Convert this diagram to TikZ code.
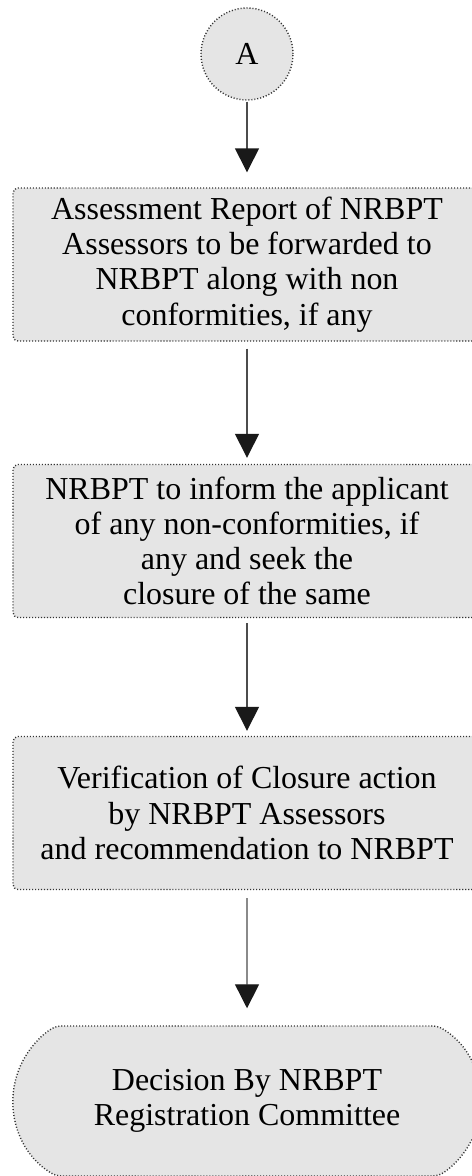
\documentclass[tikz,border=0pt]{standalone}
\usepackage{fontspec}
\setmainfont{Liberation Serif}
\usepackage{tikz}
\usetikzlibrary{positioning,arrows.meta,shapes.misc}
\tikzset{
  flowbox/.style={draw=black!80, fill=black!10, line width=0.8pt,
    dash pattern=on 0.6pt off 1.1pt, rounded corners=0.1cm, align=center,
    font=\fontsize{18.2}{20}\selectfont, minimum width=9.36cm,
    minimum height=3.06cm, inner sep=0pt},
  flowstart/.style={flowbox, circle, minimum size=1.84cm, minimum width=1.84cm,
    minimum height=1.84cm},
  flowend/.style={flowbox, rounded rectangle, rounded rectangle arc length=120,
    minimum height=3cm},
  flowarrow/.style={draw=black!70, line width=0.8pt,
    -{Triangle[length=0.48cm, width=0.48cm, color=black!90]},
    shorten <=0.12cm, shorten >=0.12cm},
}

\begin{document}
\begin{tikzpicture}
  \useasboundingbox (0,0) rectangle (9.44,-23.52);
  \clip (0,0) rectangle (9.44,-23.52);
  \node[flowstart] (conA) at (4.94,-1.08) {A};
  \node[flowbox] (report) at (4.94,-5.29) {Assessment Report of NRBPT\\Assessors to be forwarded to\\NRBPT along with non\\conformities, if any};
  \node[flowbox] (inform) at (4.94,-10.82) {NRBPT to inform the applicant\\of any non-conformities, if\\any and seek the\\closure of the same};
  \node[flowbox] (verify) at (4.94,-16.26) {Verification of Closure action\\by NRBPT Assessors\\and recommendation to NRBPT};
  \node[flowend] (decision) at (4.94,-22.02) {Decision By NRBPT\\Registration Committee};
  \draw[flowarrow, shorten <=0.02cm, shorten >=0.30cm] (conA) -- (report);
  \draw[flowarrow, shorten <=0.14cm] (report) -- (inform);
  \draw[flowarrow, shorten <=0.10cm, shorten >=0.10cm] (inform) -- (verify);
  \draw[flowarrow, shorten <=0.16cm, shorten >=0.34cm] (verify) -- (decision);
\end{tikzpicture}
\end{document}
